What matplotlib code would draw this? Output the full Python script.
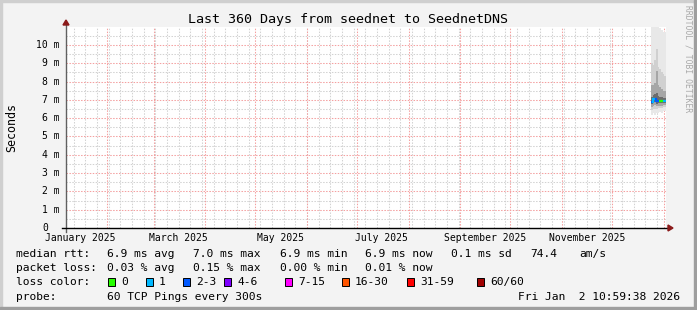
import matplotlib
matplotlib.use("Agg")
import matplotlib.pyplot as plt
import matplotlib.dates as mdates
from matplotlib.patches import Polygon, Rectangle
from datetime import datetime, timedelta

# --- data ---
t_start = datetime(2025, 1, 7, 10, 59, 38)
t_end = datetime(2026, 1, 2, 10, 59, 38)

# daily samples at the end of the range (times are sample starts)
sample_times = [datetime(2025, 12, 24, 11, 0) + timedelta(days=i) for i in range(9)]
rtt_min = [6.20, 6.30, 6.20, 6.30, 6.30, 6.35, 6.30, 6.40, 6.40]
rtt_p05 = [6.45, 6.50, 6.50, 6.50, 6.55, 6.55, 6.55, 6.60, 6.60]
rtt_p15 = [6.62, 6.68, 6.70, 6.66, 6.68, 6.68, 6.68, 6.70, 6.70]
rtt_p30 = [6.76, 6.85, 6.86, 6.80, 6.82, 6.82, 6.82, 6.82, 6.82]
rtt_median = [6.88, 7.02, 7.02, 6.94, 6.94, 6.94, 6.94, 6.94, 6.94]
rtt_p70 = [7.15, 7.25, 7.30, 7.40, 7.20, 7.15, 7.15, 7.10, 7.10]
rtt_p85 = [7.80, 7.80, 7.90, 8.60, 7.80, 7.70, 7.60, 7.50, 7.50]
rtt_p95 = [9.00, 8.90, 9.20, 9.80, 8.80, 8.70, 8.50, 8.40, 8.30]
rtt_max = [11.5, 11.5, 11.3, 11.2, 11.0, 10.9, 10.8, 10.7, 10.7]
loss_pings = [2, 1, 1, 2, 2, 0, 0, 1, 1]

loss_labels = ["0", "1", "2-3", "4-6", "7-15", "16-30", "31-59", "60/60"]
loss_colors = ["#26ff00", "#00b8ff", "#0059ff", "#7e00ff", "#ff00ff",
               "#ff5500", "#ff0000", "#a00000"]
loss_upper = [0, 1, 3, 6, 15, 30, 59, 60]

month_lines = [datetime(2025, m, 1) for m in range(2, 13)] + [datetime(2026, 1, 1)]
label_months = [datetime(2025, m, 16) for m in (1, 3, 5, 7, 9, 11)]
label_texts = ["January 2025", "March 2025", "May 2025", "July 2025",
               "September 2025", "November 2025"]
y_values = list(range(0, 11))
y_labels = ["0"] + ["%d m" % v for v in range(1, 11)]

legend_rows = [
    ["median rtt:", "6.9 ms avg", "7.0 ms max", "6.9 ms min", "6.9 ms now",
     "0.1 ms sd", "74.4", "am/s"],
    ["packet loss:", "0.03 % avg", "0.15 % max", "0.00 % min", "0.01 % now"],
]
title = "Last 360 Days from seednet to SeednetDNS"
probe_text = "60 TCP Pings every 300s"
stamp = "Fri Jan  2 10:59:38 2026"

# --- figure ---
W, H = 697, 310
DPI = 100
MONO = "DejaVu Sans Mono"
fig = plt.figure(figsize=(W / DPI, H / DPI), dpi=DPI, facecolor="#f3f3f3")

def px(x, y):
    return x / W, 1 - y / H

# frame shading
fig.patches.append(Rectangle((0, 1 - 2 / H), 1, 2 / H, transform=fig.transFigure, color="#cfcfcf", zorder=0))
fig.patches.append(Rectangle((0, 0), 2 / W, 1, transform=fig.transFigure, color="#cfcfcf", zorder=0))
fig.patches.append(Rectangle((1 - 3 / W, 0), 3 / W, 1, transform=fig.transFigure, color="#9e9e9e", zorder=0))
fig.patches.append(Rectangle((0, 0), 1, 3 / H, transform=fig.transFigure, color="#9e9e9e", zorder=0))

x0, y0, pw, ph = 66, 228, 600, 201
ax = fig.add_axes([x0 / W, (H - y0) / H, pw / W, ph / H])
ax.set_facecolor("white")
x_lo, x_hi = mdates.date2num(t_start), mdates.date2num(t_end)
ax.set_xlim(x_lo, x_hi)
ax.set_ylim(0, 10.98)
for s in ax.spines.values():
    s.set_visible(False)
ax.set_xticks([])
ax.set_yticks([])

dots = (0, (1.4, 1.4))
# minor grid: sundays and half metres
d = datetime(2025, 1, 12)
while d < t_end:
    ax.axvline(mdates.date2num(d), color="#d2d2d2", lw=0.75, ls=dots, zorder=1)
    d += timedelta(days=7)
for v in y_values:
    ax.axhline(v + 0.5, color="#d2d2d2", lw=0.75, ls=dots, zorder=1)
# major grid
for m in month_lines:
    ax.axvline(mdates.date2num(m), color="#f4a0a0", lw=0.75, ls=dots, zorder=2)
for v in y_values[1:]:
    ax.axhline(v, color="#f4a0a0", lw=0.75, ls=dots, zorder=2)

# smoke
tx = [mdates.date2num(t) for t in sample_times] + [x_hi]
def band(lo, hi, col):
    ax.fill_between(tx, lo + lo[-1:], hi + hi[-1:], step="post", color=col, lw=0, zorder=3)
band(rtt_min, rtt_max, "#e8e8e8")
band(rtt_p05, rtt_p95, "#d0d0d0")
band(rtt_p15, rtt_p85, "#a6a6a6")
band(rtt_p30, rtt_p70, "#6c6c6c")

# median coloured by loss
def loss_color(n):
    for up, c in zip(loss_upper, loss_colors):
        if n <= up:
            return c
    return loss_colors[-1]
for i, med in enumerate(rtt_median):
    c = loss_color(loss_pings[i])
    ax.plot([tx[i], tx[i + 1]], [med, med], color=c, lw=1.6, solid_capstyle="butt", zorder=5)
    if i > 0:
        ax.plot([tx[i], tx[i]], [rtt_median[i - 1], med], color=c, lw=1.6, zorder=5)

# axes with arrows
ax.plot([0, 0], [-4 / ph, 1 + 2 / ph], transform=ax.transAxes, color="#606060", lw=1, clip_on=False, zorder=6)
ax.plot([-4 / pw, 1 + 3 / pw], [0, 0], transform=ax.transAxes, color="#000000", lw=1, clip_on=False, zorder=6)
ax.add_patch(Polygon([(-3 / pw, 1 + 2 / ph), (3 / pw, 1 + 2 / ph), (0, 1 + 7 / ph)], closed=True,
                     transform=ax.transAxes, color="#8b1a1a", clip_on=False, zorder=7))
ax.add_patch(Polygon([(1 + 2 / pw, 3 / ph), (1 + 2 / pw, -3 / ph), (1 + 7 / pw, 0)], closed=True,
                     transform=ax.transAxes, color="#8b1a1a", clip_on=False, zorder=7))

# tick labels
for v, lab in zip(y_values, y_labels):
    xoff = -18 if v == 0 else -6
    ax.annotate(lab, xy=(0, v), xycoords=("axes fraction", "data"), xytext=(xoff, 0),
                textcoords="offset pixels", ha="right", va="center", fontsize=7, family=MONO)
for m, lab in zip(label_months, label_texts):
    ax.annotate(lab, xy=(mdates.date2num(m), 0), xycoords=("data", "axes fraction"), xytext=(0, -10),
                textcoords="offset pixels", ha="center", va="center", fontsize=7, family=MONO)

# titles
fig.text(*px(348, 19), title, ha="center", va="center", fontsize=9.6, family=MONO)
fig.text(*px(12, 128), "Seconds", ha="center", va="center", rotation=90, fontsize=8.4, family=MONO)
fig.text(*px(688, 59), "RRDTOOL / TOBI OETIKER", ha="center", va="center", rotation=270,
         fontsize=5.8, family=MONO, color="#a8a8a8")

# legend
LF = 8.1
row_y = [254, 268, 282, 297]
xs1 = [16, 107, 193, 280, 365, 451, 530, 579]
for row, yy in zip(legend_rows, row_y):
    for txt, xx in zip(row, xs1):
        fig.text(*px(xx, yy), txt, ha="left", va="center", fontsize=LF, family=MONO)

fig.text(*px(16, row_y[2]), "loss color:", ha="left", va="center", fontsize=LF, family=MONO)
box_x = [108, 146, 183, 224, 285, 342, 407, 477]
for bx, lab, col in zip(box_x, loss_labels, loss_colors):
    fig.patches.append(Rectangle(px(bx, row_y[2] + 4), 7 / W, 8 / H, transform=fig.transFigure,
                                 facecolor=col, edgecolor="black", lw=0.7))
    fig.text(*px(bx + 13, row_y[2]), lab, ha="left", va="center", fontsize=LF, family=MONO)

fig.text(*px(16, row_y[3]), "probe:", ha="left", va="center", fontsize=LF, family=MONO)
fig.text(*px(107, row_y[3]), probe_text, ha="left", va="center", fontsize=LF, family=MONO)
fig.text(*px(680, row_y[3]), stamp, ha="right", va="center", fontsize=LF, family=MONO)

fig.savefig("out.png", dpi=DPI, facecolor=fig.get_facecolor())
